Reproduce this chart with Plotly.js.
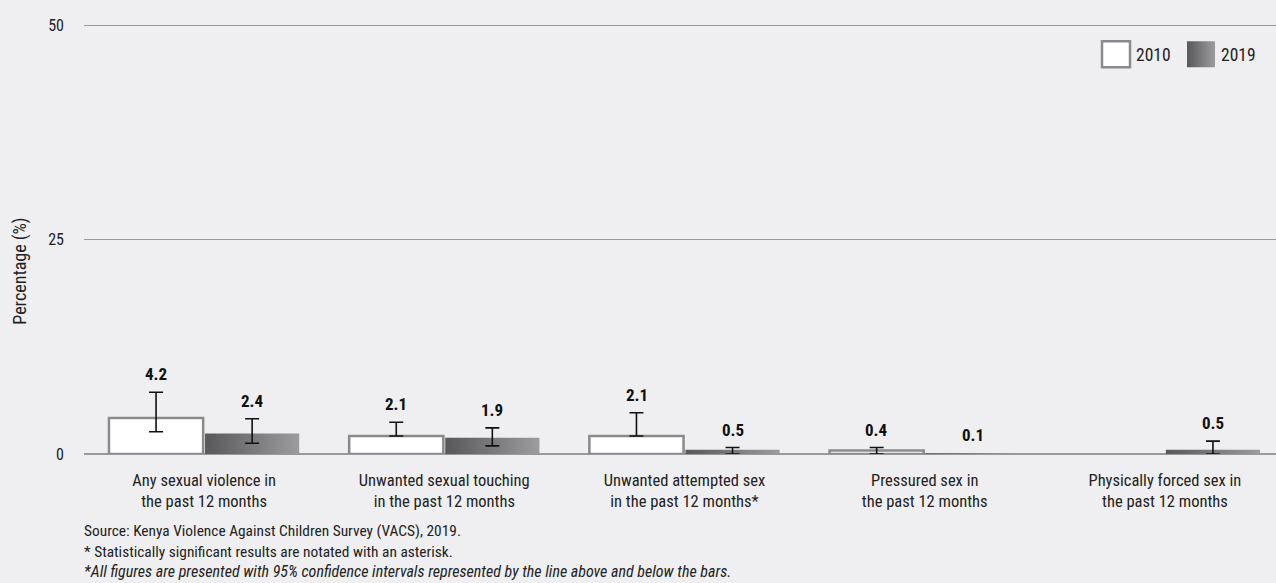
<!DOCTYPE html>
<html><head><meta charset="utf-8">
<script src="https://cdn.plot.ly/plotly-3.0.1.min.js"></script>
<style>html,body{margin:0;padding:0;background:#efeff1}</style>
</head><body>
<div id="chart" style="width:1276px;height:583px"></div>
<script>
const categories = [
  "Any sexual violence in<br>the past 12 months",
  "Unwanted sexual touching<br>in the past 12 months",
  "Unwanted attempted sex<br>in the past 12 months*",
  "Pressured sex in<br>the past 12 months",
  "Physically forced sex in<br>the past 12 months"
];
const seriesNames = ["2010", "2019"];
const values2010 = [4.2, 2.1, 2.1, 0.4, null];
const values2019 = [2.4, 1.9, 0.5, 0.1, 0.5];
const errPlus2010 = [3.0, 1.6, 2.7, 0.35, NaN];
const errMinus2010 = [1.6, 0, 0, 0.4, NaN];
const errPlus2019 = [1.7, 1.15, 0.25, NaN, 1.0];
const errMinus2019 = [1.15, 0.95, 0.5, NaN, 0.5];
const labels2010 = ["4.2", "2.1", "2.1", "0.4", ""];
const labels2019 = ["2.4", "1.9", "0.5", "0.1", "0.5"];
const yTicks = [0, 25, 50];
const footnotes = [
  "Source: Kenya Violence Against Children Survey (VACS), 2019.",
  "* Statistically significant results are notated with an asterisk.",
  "<i>*All figures are presented with 95% confidence intervals represented by the line above and below the bars.</i>"
];

const FONT = "'Roboto Condensed', 'Liberation Sans Narrow', 'DejaVu Sans Condensed', sans-serif";

const traces = [
  {
    type: "bar", name: seriesNames[0], x: categories, y: values2010,
    marker: {color: "#ffffff", line: {color: "#8a8a8c", width: 2.5}},
    error_y: {type: "data", symmetric: false, array: errPlus2010, arrayminus: errMinus2010,
              color: "#111", thickness: 1.6, width: 7},
    hoverinfo: "skip"
  },
  {
    type: "bar", name: seriesNames[1], x: categories, y: values2019,
    marker: {color: "#7a7a7c", line: {width: 0}},
    error_y: {type: "data", symmetric: false, array: errPlus2019, arrayminus: errMinus2019,
              color: "#111", thickness: 1.6, width: 7},
    hoverinfo: "skip"
  }
];

const annotations = [];
function addLabels(vals, plus, labels, offset) {
  vals.forEach((v, i) => {
    if (v === null || !labels[i]) return;
    const top = v + (isNaN(plus[i]) ? 0 : plus[i]);
    annotations.push({
      x: categories[i], y: top, xref: "x", yref: "y", text: "<b>" + labels[i] + "</b>",
      showarrow: false, yanchor: "bottom", xanchor: "center", xshift: offset, yshift: 6,
      font: {family: FONT, size: 17, color: "#111"}
    });
  });
}
addLabels(values2010, errPlus2010, labels2010, -48);
addLabels(values2019, errPlus2019, labels2019, 48);

annotations.push({
  text: "Percentage (%)", xref: "paper", yref: "paper", x: 0, y: 0.422, xshift: -64,
  textangle: -90, showarrow: false, xanchor: "center", yanchor: "middle",
  font: {family: FONT, size: 18, color: "#222"}
});
const footY = [-0.1782, -0.2269, -0.2986];
const footAnchor = ["middle", "middle", "bottom"];
const footSize = [15.4, 15.4, 16];
footnotes.forEach((t, i) => annotations.push({
  text: t, xref: "paper", yref: "paper", x: 0, xshift: -2, y: footY[i], showarrow: false,
  xanchor: "left", yanchor: footAnchor[i], font: {family: FONT, size: footSize[i], color: "#222"}
}));

const layout = {
  width: 1276, height: 583,
  margin: {l: 84, r: 0, t: 22, b: 129},
  paper_bgcolor: "#efeff1", plot_bgcolor: "#efeff1",
  barmode: "group", bargap: 0.2, bargroupgap: 0.02,
  font: {family: FONT, size: 16, color: "#222"},
  xaxis: {
    range: [-0.5, 4.4625], showgrid: false, showline: false, zeroline: false,
    ticks: "", ticklabelstandoff: 14, tickfont: {family: FONT, size: 16.5, color: "#222"}, fixedrange: true
  },
  yaxis: {
    range: [0, 50.35], tickvals: yTicks, ticktext: yTicks.map(String),
    showgrid: true, gridcolor: "#9a9a9c", gridwidth: 1,
    zeroline: true, zerolinecolor: "#9a9a9c", zerolinewidth: 1.5,
    showline: false, ticks: "", ticklabelstandoff: 19,
    tickfont: {family: FONT, size: 16, color: "#222"}, fixedrange: true
  },
  legend: {
    orientation: "h", x: 0.849, xanchor: "left", xref: "paper", y: 0.925, yanchor: "middle",
    font: {family: FONT, size: 17.5, color: "#222"}, bgcolor: "rgba(0,0,0,0)",
    traceorder: "normal", entrywidth: 40
  },
  showlegend: true,
  annotations: annotations
};

Plotly.newPlot("chart", traces, layout, {displayModeBar: false, staticPlot: true}).then(gd => {
  const svg = gd.querySelector("svg.main-svg");
  const ns = "http://www.w3.org/2000/svg";
  let defs = svg.querySelector("defs");
  if (!defs) { defs = document.createElementNS(ns, "defs"); svg.insertBefore(defs, svg.firstChild); }
  const lg = document.createElementNS(ns, "linearGradient");
  lg.setAttribute("id", "grad2019");
  lg.setAttribute("x1", "0"); lg.setAttribute("y1", "0");
  lg.setAttribute("x2", "1"); lg.setAttribute("y2", "0");
  [["0%", "#58585a"], ["100%", "#9c9c9e"]].forEach(([o, c]) => {
    const s = document.createElementNS(ns, "stop");
    s.setAttribute("offset", o); s.setAttribute("stop-color", c); lg.appendChild(s);
  });
  defs.appendChild(lg);
  const barTraces = gd.querySelectorAll(".barlayer .trace");
  if (barTraces[1]) barTraces[1].querySelectorAll(".point path").forEach(p => p.style.fill = "url(#grad2019)");
  const legTraces = gd.querySelectorAll(".legend .traces");
  legTraces.forEach((t, i) => {
    const p = t.querySelector(".legendpoints path");
    if (!p) return;
    p.setAttribute("d", "M14,13H-14V-13H14Z");
    if (i === 0) { p.style.strokeWidth = "2.5px"; p.style.stroke = "#8a8a8c"; }
    if (i === 1) p.style.fill = "url(#grad2019)";
  });
});
</script>
</body></html>
